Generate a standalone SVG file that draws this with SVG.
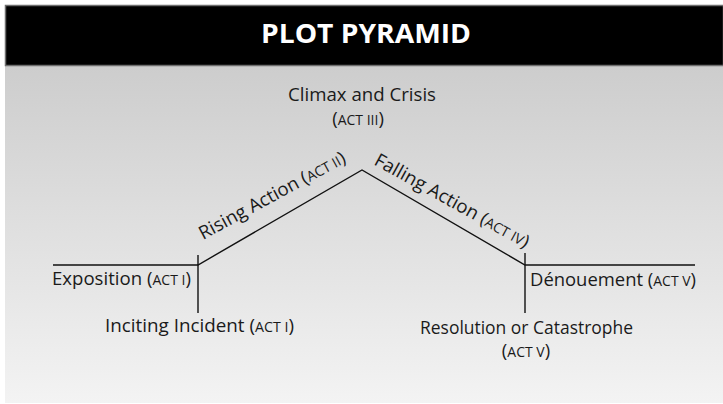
<svg xmlns="http://www.w3.org/2000/svg" width="723" height="404" viewBox="0 0 723 404">
<defs>
<linearGradient id="bg" x1="0" y1="0" x2="0" y2="1">
<stop offset="0" stop-color="#cdcdcd"/>
<stop offset="1" stop-color="#f3f3f3"/>
</linearGradient>
<style>
.t{font-family:"Open Sans","Noto Sans","Liberation Sans",sans-serif;font-size:18.5px;fill:#1a1a1a}
.sc{font-size:14px}
.ln{stroke:#111;stroke-width:1.4;fill:none}
.title{font-family:"Open Sans","Liberation Sans",sans-serif;font-weight:bold;font-size:26px;fill:#fff}
</style>
</defs>
<rect x="0" y="0" width="723" height="404" fill="#fff"/>
<rect x="5" y="66" width="718" height="337" fill="url(#bg)"/>
<g id="header">
<rect x="5.5" y="5.5" width="718" height="60" fill="#000" stroke="#6e6e6e" stroke-width="1.5"/>
<text class="title" x="366" y="43" text-anchor="middle" textLength="210" lengthAdjust="spacingAndGlyphs">PLOT PYRAMID</text>
</g>
<g id="connectors">
<polyline class="ln" points="53,265 198,265 362,170 525,265 695,265"/>
<line class="ln" x1="198" y1="255" x2="198" y2="313"/>
<line class="ln" x1="525" y1="253" x2="525" y2="313"/>
</g>
<g id="climax">
<text class="t" x="362" y="101" text-anchor="middle" textLength="148" lengthAdjust="spacingAndGlyphs">Climax and Crisis</text>
<text class="t" x="358" y="125" text-anchor="middle">(<tspan class="sc">ACT III</tspan>)</text>
</g>
<g id="rising">
<text class="t" transform="translate(203,240) rotate(-28.5)" textLength="164" lengthAdjust="spacingAndGlyphs">Rising Action (<tspan class="sc">ACT II</tspan>)</text>
</g>
<g id="falling">
<text class="t" transform="translate(373,164) rotate(29)" textLength="174" lengthAdjust="spacingAndGlyphs">Falling Action (<tspan class="sc">ACT IV</tspan>)</text>
</g>
<g id="exposition">
<text class="t" x="52" y="285" textLength="139" lengthAdjust="spacingAndGlyphs">Exposition (<tspan class="sc">ACT I</tspan>)</text>
</g>
<g id="inciting">
<text class="t" x="105" y="332" textLength="189" lengthAdjust="spacingAndGlyphs">Inciting Incident (<tspan class="sc">ACT I</tspan>)</text>
</g>
<g id="denouement">
<text class="t" x="530" y="286" textLength="166" lengthAdjust="spacingAndGlyphs">Dénouement (<tspan class="sc">ACT V</tspan>)</text>
</g>
<g id="resolution">
<text class="t" x="420" y="334" textLength="213" lengthAdjust="spacingAndGlyphs">Resolution or Catastrophe</text>
<text class="t" x="526" y="357" text-anchor="middle">(<tspan class="sc">ACT V</tspan>)</text>
</g>
</svg>
